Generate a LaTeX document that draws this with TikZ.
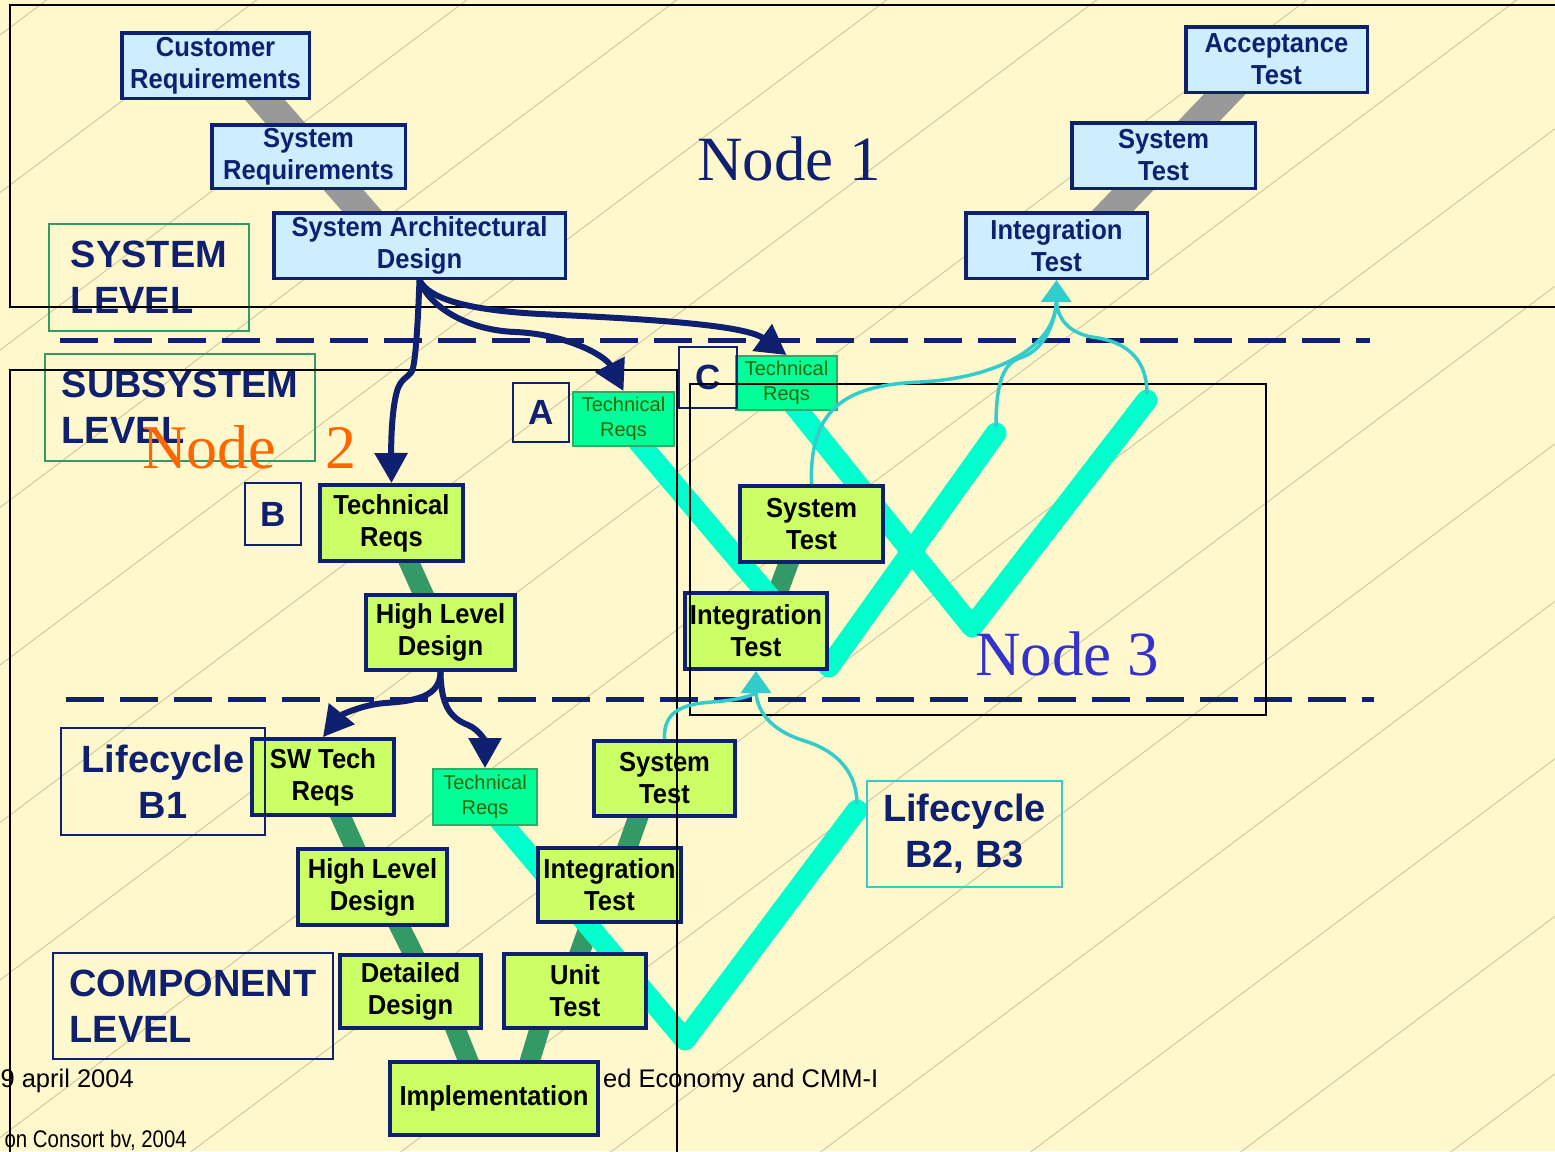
\documentclass[tikz,border=0pt]{standalone}
\usepackage{fontspec}
\setmainfont{Liberation Sans}
\newfontfamily\serifnode{Liberation Serif}
\newfontfamily\narrowfoot[FakeStretch=0.85]{Liberation Sans}
\newfontfamily\boxfamily[FakeStretch=0.93]{Liberation Sans}
\usetikzlibrary{arrows.meta}
\pgfdeclarelayer{bg}
\pgfdeclarelayer{bands}
\pgfsetlayers{bg,bands,main}

\definecolor{navyline}{HTML}{102070}
\definecolor{bluefill}{HTML}{CCEEFF}
\definecolor{limefill}{HTML}{CCFF66}
\definecolor{reqfill}{HTML}{00FF99}
\definecolor{reqline}{HTML}{33AA66}
\definecolor{reqtext}{HTML}{336600}
\definecolor{lvlgreen}{HTML}{339966}
\definecolor{tealline}{HTML}{33CCCC}
\definecolor{bandcyan}{HTML}{00FFCC}
\definecolor{banddark}{HTML}{339966}
\definecolor{bandgray}{HTML}{999999}
\definecolor{orangetext}{HTML}{FF6600}
\definecolor{violettext}{HTML}{3333CC}
\definecolor{bgyellow}{HTML}{FFF8CC}
\definecolor{hatchline}{HTML}{C8C0A0}

\newcommand{\boxtext}{\boxfamily\fontsize{27.5}{32}\selectfont\bfseries}
\newcommand{\reqfont}{\fontsize{20}{25}\selectfont}
\newcommand{\lvlfont}{\fontsize{38}{46}\selectfont\bfseries}
\newcommand{\letterfont}{\fontsize{35}{40}\selectfont\bfseries}
\newcommand{\footerfont}{\fontsize{25.5}{30}\selectfont}

\begin{document}
\begin{tikzpicture}[x=1pt, y=-1pt,
    bluebox/.style={rectangle, draw=navyline, line width=3.5pt, fill=bluefill, text=navyline, font=\boxtext, align=center, inner sep=0pt},
    limebox/.style={rectangle, draw=navyline, line width=4pt, fill=limefill, text=black, font=\boxtext, align=center, inner sep=0pt},
    reqbox/.style={rectangle, draw=reqline, line width=2pt, fill=reqfill, text=reqtext, font=\reqfont, align=center, inner sep=0pt},
    lvlbox/.style={rectangle, line width=2pt, text=navyline, font=\lvlfont, align=left, inner sep=0pt},
    letterbox/.style={rectangle, draw=navyline, line width=2pt, text=navyline, font=\letterfont, inner sep=0pt},
    nodetitle/.style={anchor=base west, inner sep=0pt},
    grayband/.style={draw=bandgray, line width=30pt},
    greenband/.style={draw=banddark, line width=20pt},
    cyanband/.style={draw=bandcyan, line width=21pt, line cap=round, line join=round},
    navyarrow/.style={draw=navyline, line width=6pt, -{Triangle[length=30pt, width=32pt]}},
    tealarrow/.style={draw=tealline, line width=3.5pt, -{Triangle[length=22pt, width=30pt]}},
    tealcurve/.style={draw=tealline, line width=3.5pt},
    dashline/.style={draw=navyline, line width=5pt, dash pattern=on 38pt off 16pt},
    panel/.style={draw=black, line width=1.5pt},
    hatch/.style={draw=hatchline, line width=0.8pt}]

    \useasboundingbox (0,0) rectangle (1555,1151);

    \begin{pgfonlayer}{bg}
        \fill[bgyellow] (0,0) rectangle (1555,1151);
        \foreach \x in {-1500,-1290,...,1600}
            \draw[hatch] (\x,1160) -- ++(1560,-1170);
    \end{pgfonlayer}

    \draw[dashline] (60,340) -- (1370,340);
    \draw[dashline] (66,699) -- (1374,699);

    \node[anchor=base east, font=\footerfont, inner sep=0pt] at (134,1087) (date) {9 april 2004};
    \node[anchor=base west, font=\footerfont, inner sep=0pt] at (603,1087) (title) {ed Economy and CMM-I};
    \node[anchor=base east, font=\narrowfoot\fontsize{24}{28}\selectfont, inner sep=0pt] at (187,1147) (copy) {on Consort bv, 2004};

    \node[bluebox, minimum width=187.5pt, minimum height=65.5pt] at (215.5,65.5) (custReq) {Customer\\Requirements};
    \node[bluebox, minimum width=193.5pt, minimum height=63.5pt] at (308.5,156.5) (sysReq) {System\\Requirements};
    \node[bluebox, minimum width=291.5pt, minimum height=65.5pt] at (419.5,245.5) (sysArch) {System Architectural\\Design};
    \node[bluebox, minimum width=181.5pt, minimum height=65.5pt] at (1276.5,59.5) (accTest) {Acceptance\\Test};
    \node[bluebox, minimum width=183.5pt, minimum height=65.5pt] at (1163.5,155.5) (sysTest1) {System\\Test};
    \node[bluebox, minimum width=181.5pt, minimum height=65.5pt] at (1056.5,245.5) (intTest1) {Integration\\Test};

    \node[limebox, minimum width=143pt, minimum height=76pt] at (391.5,523) (techReqB) {Technical\\Reqs};
    \node[limebox, minimum width=149pt, minimum height=75pt] at (440.5,632.5) (hlDesignB) {High Level\\Design};
    \node[limebox, minimum width=143pt, minimum height=76pt] at (811.5,524) (sysTest3) {System\\Test};
    \node[limebox, minimum width=142pt, minimum height=76pt] at (756,631) (intTest3) {Integration\\Test};
    \node[limebox, minimum width=142pt, minimum height=76pt] at (323,777) (swTech) {SW Tech\\Reqs};
    \node[limebox, minimum width=149pt, minimum height=76pt] at (372.5,887) (hlDesign1) {High Level\\Design};
    \node[limebox, minimum width=141pt, minimum height=73pt] at (410.5,991.5) (detDesign) {Detailed\\Design};
    \node[limebox, minimum width=208pt, minimum height=73pt] at (494,1098.5) (impl) {Implementation};
    \node[limebox, minimum width=142pt, minimum height=74pt] at (575,991) (unitTest) {Unit\\Test};
    \node[limebox, minimum width=143pt, minimum height=74pt] at (609.5,885) (intTest2) {Integration\\Test};
    \node[limebox, minimum width=141pt, minimum height=75pt] at (664.5,778.5) (sysTest2) {System\\Test};

    \node[reqbox, minimum width=101pt, minimum height=54pt] at (623.5,419) (techReqA) {Technical\\Reqs};
    \node[reqbox, minimum width=101pt, minimum height=54pt] at (786.5,383) (techReqC) {Technical\\Reqs};
    \node[reqbox, minimum width=104pt, minimum height=56pt] at (485,797) (techReqB1) {Technical\\Reqs};

    \node[lvlbox, draw=lvlgreen, minimum width=200pt, minimum height=107pt] at (149,277.5) (sysLevel) {SYSTEM\\LEVEL};
    \node[lvlbox, draw=lvlgreen, minimum width=270pt, minimum height=107pt] at (180,407.5) (subLevel) {SUBSYSTEM\\LEVEL};
    \node[lvlbox, draw=navyline, align=center, minimum width=204pt, minimum height=107pt] at (163,781.5) (lifeB1) {Lifecycle\\B1};
    \node[lvlbox, draw=navyline, minimum width=280pt, minimum height=106pt] at (193,1006) (compLevel) {COMPONENT\\LEVEL};
    \node[lvlbox, draw=tealline, line width=2.5pt, align=center, minimum width=195pt, minimum height=106pt] at (964.5,834) (lifeB23) {Lifecycle\\B2, B3};
    \node[letterbox, minimum width=56pt, minimum height=59pt] at (541,412.5) (lblA) {A};
    \node[letterbox, minimum width=56pt, minimum height=62pt] at (273,514) (lblB) {B};
    \node[letterbox, minimum width=58pt, minimum height=61pt] at (708,377.5) (lblC) {C};

    \coordinate (vAbot) at (829,667);
    \coordinate (vAtop) at (996,433);
    \coordinate (vCbot) at (972,627);
    \coordinate (vCtop) at (1147,400);
    \coordinate (vBbot) at (685,1040);
    \coordinate (vBtop) at (857,810);

    \begin{pgfonlayer}{bands}
        \draw[grayband] ([xshift=19.5pt]custReq.center) -- ([xshift=-27.5pt]sysArch.center);
        \draw[grayband] ([xshift=-18.5pt]accTest.center) -- ([xshift=23pt]intTest1.center);
        \draw[greenband] (techReqB.center) -- (hlDesignB.center);
        \draw[greenband] (swTech.center) -- (hlDesign1.center);
        \draw[greenband] ([xshift=7.5pt]hlDesign1.center) -- ([xshift=21.5pt]detDesign.center);
        \draw[greenband] ([xshift=30pt]detDesign.center) -- ([xshift=-10.6pt]impl.center);
        \draw[greenband] ([xshift=-24pt]unitTest.center) -- ([xshift=24.5pt]impl.center);
        \draw[greenband] ([xshift=-5.5pt]intTest2.center) -- ([xshift=-9pt]unitTest.center);
        \draw[greenband] ([xshift=-12.5pt]sysTest2.center) -- ([xshift=4.5pt]intTest2.center);
        \draw[greenband] ([xshift=-8.5pt]sysTest3.center) -- ([xshift=7.5pt]intTest3.center);
        \draw[cyanband] ([xshift=-4.5pt]techReqA.center) -- (vAbot) -- (vAtop);
        \draw[cyanband] ([xshift=-10.5pt]techReqC.center) -- (vCbot) -- (vCtop);
        \draw[cyanband] ([xshift=-5pt]techReqB1.center) -- (vBbot) -- (vBtop);
    \end{pgfonlayer}

    \draw[panel] (10,5) rectangle (1570,307);
    \draw[panel] (10,370) rectangle (677,1170);
    \draw[panel] (690,384) rectangle (1266,715);

    \draw[navyarrow] (sysArch.south) .. controls (418,320) and (416,355) .. (413,368) .. controls (411,377) and (403,376) .. (398,388) .. controls (392,405) and (391,440) .. (techReqB.north);
    \draw[navyarrow] (sysArch.south) .. controls (428,305) and (465,330) .. (515,332) .. controls (565,334) and (605,355) .. (techReqA.north);
    \draw[navyarrow] (sysArch.south) .. controls (428,298) and (465,310) .. (540,314) .. controls (650,319) and (745,325) .. (techReqC.north);
    \draw[navyarrow] (hlDesignB.south) .. controls (440,697) and (415,701) .. (385,703) .. controls (360,705) and (340,716) .. (swTech.north);
    \draw[navyarrow] (hlDesignB.south) .. controls (441,705) and (450,718) .. (468,725) .. controls (480,730) and (485,742) .. (techReqB1.north);

    \draw[tealarrow] (sysTest3.north) .. controls (809,405) and (850,385) .. (920,382) .. controls (1000,378) and (1056,345) .. (intTest1.south);
    \draw[tealcurve] ([yshift=6pt]vCtop) .. controls (1147,350) and (1115,340) .. (1092,337) .. controls (1070,333) and (1058,320) .. ([yshift=-22pt]intTest1.south);
    \draw[tealcurve] ([yshift=6pt]vAtop) .. controls (996,392) and (1000,364) .. (1020,358) .. controls (1040,352) and (1054,330) .. ([yshift=-22pt]intTest1.south);
    \draw[tealarrow] (sysTest2.north) .. controls (663,712) and (682,704) .. (712,702) .. controls (742,700) and (756,694) .. (intTest3.south);
    \draw[tealcurve] ([yshift=6pt]vBtop) .. controls (857,775) and (840,752) .. (805,741) .. controls (775,732) and (758,715) .. ([yshift=-22pt]intTest3.south);

    \node[nodetitle, text=navyline, font=\serifnode\fontsize{63}{68}\selectfont] at (697,180) (node1) {Node 1};
    \node[nodetitle, text=orangetext, font=\serifnode\fontsize{62}{66}\selectfont] at (142,468) (node2) {Node\hspace{49pt}2};
    \node[nodetitle, text=violettext, font=\serifnode\fontsize{63}{68}\selectfont] at (975,675) (node3) {Node 3};
\end{tikzpicture}
\end{document}
